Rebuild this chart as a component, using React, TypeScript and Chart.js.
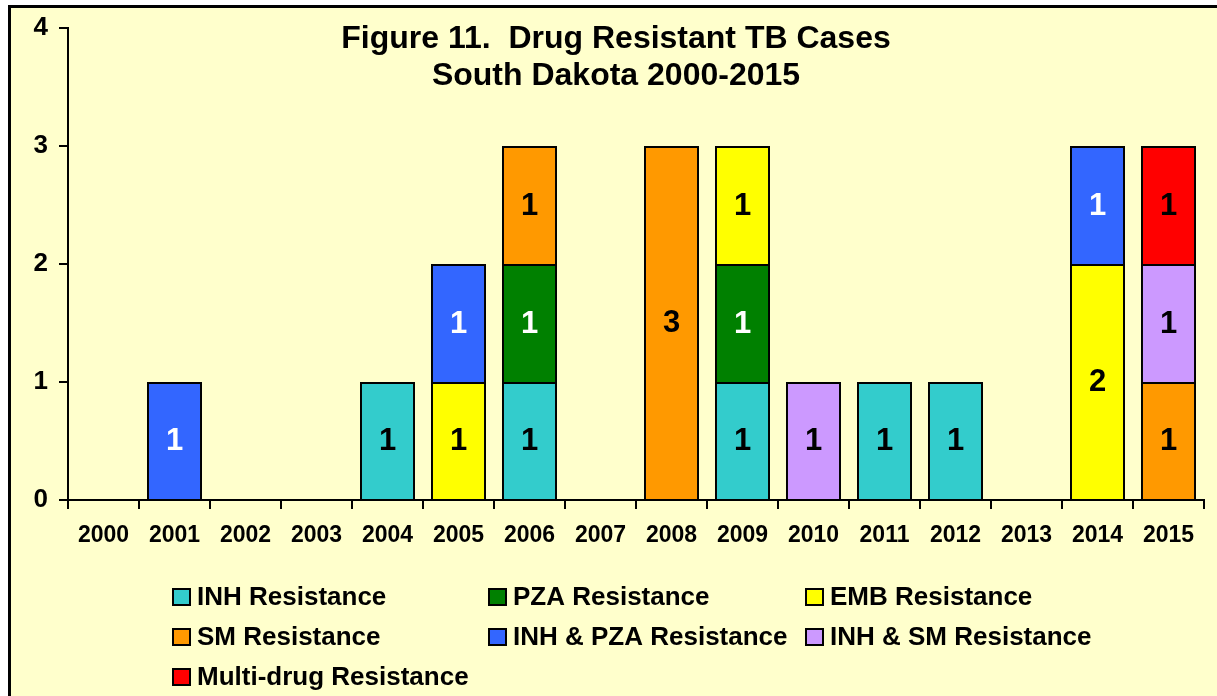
import React, { useEffect, useRef } from "react";
import { Chart, registerables } from "chart.js";

Chart.register(...registerables);

const years = ["2000","2001","2002","2003","2004","2005","2006","2007","2008","2009","2010","2011","2012","2013","2014","2015"];
const inh =    [null, null, null, null, 1, null, 1, null, null, 1, null, 1, 1, null, null, null];
const pza =    [null, null, null, null, null, null, 1, null, null, 1, null, null, null, null, null, null];
const emb =    [null, null, null, null, null, 1, null, null, null, 1, null, null, null, null, 2, null];
const sm =     [null, null, null, null, null, null, 1, null, 3, null, null, null, null, null, null, 1];
const inhPza = [null, 1, null, null, null, 1, null, null, null, null, null, null, null, null, 1, null];
const inhSm =  [null, null, null, null, null, null, null, null, null, null, 1, null, null, null, null, 1];
const mdr =    [null, null, null, null, null, null, null, null, null, null, null, null, null, null, null, 1];
const yTicks = [0, 1, 2, 3, 4];
const titleLines = ["Figure 11.  Drug Resistant TB Cases", "South Dakota 2000-2015"];

const seriesNames = ["INH Resistance", "PZA Resistance", "EMB Resistance", "SM Resistance", "INH & PZA Resistance", "INH & SM Resistance", "Multi-drug Resistance"];
const seriesData = [inh, pza, emb, sm, inhPza, inhSm, mdr];
const seriesColors = ["#33CCCC", "#008000", "#FFFF00", "#FF9900", "#3366FF", "#CC99FF", "#FF0000"];
const labelColors = ["#000", "#fff", "#000", "#000", "#fff", "#000", "#000"];

const FONT = 'Arial, "Liberation Sans", sans-serif';

export default function App() {
  const ref = useRef<HTMLCanvasElement | null>(null);
  useEffect(() => {
    const canvas = ref.current!;
    const bgPlugin = {
      id: "bg",
      beforeDraw(chart: any) {
        const ctx = chart.ctx;
        ctx.save();
        ctx.fillStyle = "#ffffff";
        ctx.fillRect(0, 0, chart.width, chart.height);
        ctx.fillStyle = "#FFFFCC";
        ctx.fillRect(8, 5, chart.width, chart.height);
        ctx.strokeStyle = "#000";
        ctx.lineWidth = 3;
        ctx.strokeRect(9.5, 6.5, chart.width + 20, chart.height + 20);
        ctx.restore();
      },
    };
    const overlayPlugin = {
      id: "overlay",
      afterDatasetsDraw(chart: any) {
        const ctx = chart.ctx;
        ctx.save();
        ctx.font = `bold 31px ${FONT}`;
        ctx.textAlign = "center";
        ctx.textBaseline = "middle";
        chart.data.datasets.forEach((ds: any, di: number) => {
          const meta = chart.getDatasetMeta(di);
          meta.data.forEach((el: any, i: number) => {
            const v = ds.data[i];
            if (v === null || v === undefined || v === 0) return;
            ctx.fillStyle = labelColors[di];
            ctx.fillText(String(v), el.x, (el.y + el.base) / 2 + 1);
          });
        });
        ctx.restore();
      },
      afterDraw(chart: any) {
        const ctx = chart.ctx;
        ctx.save();
        ctx.fillStyle = "#000";
        ctx.font = `bold 32px ${FONT}`;
        ctx.textAlign = "center";
        ctx.textBaseline = "middle";
        titleLines.forEach((t, i) => ctx.fillText(t, 616, 39 + i * 37));
        const colX = [173, 489, 806];
        const rowY = [597, 637, 677];
        ctx.font = `bold 26px ${FONT}`;
        ctx.textAlign = "left";
        seriesNames.forEach((name, i) => {
          const cx = colX[i % 3];
          const cy = rowY[Math.floor(i / 3)];
          ctx.fillStyle = seriesColors[i];
          ctx.fillRect(cx, cy - 8, 17, 16);
          ctx.strokeStyle = "#000";
          ctx.lineWidth = 2;
          ctx.strokeRect(cx, cy - 8, 17, 16);
          ctx.fillStyle = "#000";
          ctx.fillText(name, cx + 24, cy + 1);
        });
        ctx.restore();
      },
    };
    const chart = new Chart(canvas, {
      type: "bar",
      data: {
        labels: years,
        datasets: seriesNames.map((n, i) => ({
          label: n,
          data: seriesData[i],
          backgroundColor: seriesColors[i],
          borderColor: "#000",
          borderWidth: { top: 2, left: 2, right: 2, bottom: 0 },
          borderSkipped: false,
          barPercentage: 0.775,
          categoryPercentage: 1,
        })),
      },
      options: {
        animation: false,
        responsive: false,
        devicePixelRatio: 1,
        events: [],
        layout: { padding: { left: 0, top: 28, right: 13, bottom: 0 } },
        plugins: { legend: { display: false }, title: { display: false }, tooltip: { enabled: false } },
        scales: {
          x: {
            stacked: true,
            afterFit: (s: any) => { s.height = 196; },
            grid: { drawOnChartArea: false, color: "#000", lineWidth: 2, tickLength: 9, offset: true },
            border: { display: true, color: "#000", width: 2 },
            ticks: { color: "#000", font: { family: FONT, size: 23, weight: "bold" }, padding: 13, maxRotation: 0, autoSkip: false },
          },
          y: {
            stacked: true,
            min: 0,
            max: 4,
            afterFit: (s: any) => { s.width = 68; },
            afterBuildTicks: (s: any) => { s.ticks = yTicks.map((v) => ({ value: v })); },
            grid: { drawOnChartArea: false, color: "#000", lineWidth: 2, tickLength: 9 },
            border: { display: true, color: "#000", width: 2 },
            ticks: { color: "#000", font: { family: FONT, size: 26, weight: "bold" }, padding: 11, stepSize: 1 },
          },
        },
      } as any,
      plugins: [bgPlugin, overlayPlugin],
    });
    return () => chart.destroy();
  }, []);
  return (
    <div style={{ position: "fixed", left: 0, top: 0, width: 1217, height: 696, overflow: "hidden" }}>
      <canvas ref={ref} width={1217} height={696} style={{ display: "block" }} />
    </div>
  );
}
